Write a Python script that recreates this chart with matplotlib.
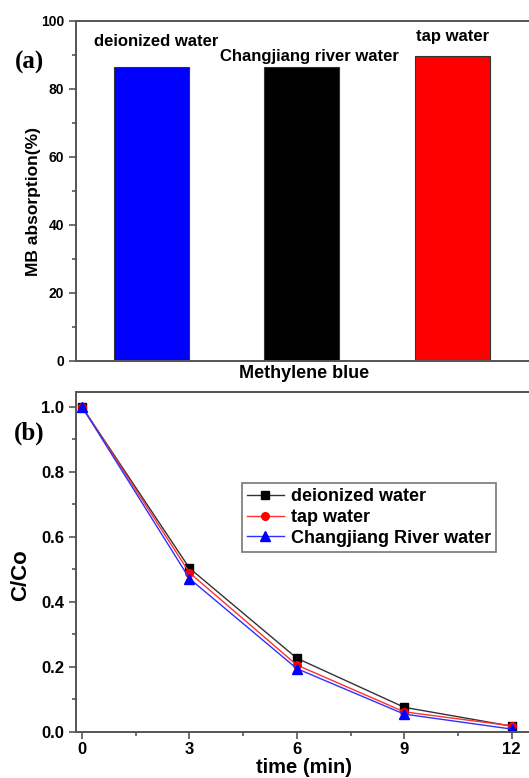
import matplotlib
matplotlib.use("Agg")
import matplotlib.pyplot as plt
from matplotlib.ticker import MultipleLocator, FormatStrFormatter

plt.rcParams['font.family'] = ['Liberation Sans', 'DejaVu Sans']
plt.rcParams['font.weight'] = 'bold'

# Panel (a): MB absorption in different waters
bar_labels = ["deionized water", "Changjiang river water", "tap water"]
absorption = [86.5, 86.5, 89.6]
bar_colors = ["#0000ff", "#000000", "#ff0000"]

# Panel (b): C/Co versus time
time_min = [0, 3, 6, 9, 12]
deionized = [1.0, 0.504, 0.227, 0.076, 0.018]
tap = [1.0, 0.490, 0.206, 0.062, 0.019]
changjiang = [1.0, 0.472, 0.195, 0.055, 0.009]

W, H = 529, 778
fig = plt.figure(figsize=(W / 100, H / 100), dpi=100)

spine_col = "#555555"

def px_axes(l, t, r, b):
    return fig.add_axes([l / W, 1 - b / H, (r - l) / W, (b - t) / H])

def style(ax):
    for s in ax.spines.values():
        s.set_color(spine_col)
        s.set_linewidth(1.4)
    ax.tick_params(which='both', direction='out', color=spine_col, width=1.2)
    ax.tick_params(which='major', length=5)
    ax.tick_params(which='minor', length=3)

# ---- (a) bar chart ----
ax1 = px_axes(76, 21, 532, 361)
style(ax1)
xpos = [1, 2, 3]
ax1.bar(xpos, absorption, width=0.5, color=bar_colors, edgecolor="#333333", linewidth=0.8)
ax1.set_xlim(0.5, 3.53)
ax1.set_ylim(0, 100)
ax1.yaxis.set_major_locator(MultipleLocator(20))
ax1.yaxis.set_minor_locator(MultipleLocator(10))
ax1.set_xticks([])
for lab in ax1.get_yticklabels():
    lab.set_fontsize(10)
    lab.set_fontweight('bold')
ax1.set_ylabel("MB absorption(%)", fontsize=12.5, fontweight='bold', va='center')
ax1.yaxis.set_label_coords(-0.094, 0.47)
ax1.set_xlabel("Methylene blue", fontsize=13, fontweight='bold', labelpad=3)

ax1.text(1.03, 94.0, bar_labels[0], ha='center', va='center', fontsize=12, fontweight='bold')
ax1.text(2.05, 89.7, bar_labels[1], ha='center', va='center', fontsize=12, fontweight='bold')
ax1.text(3.0, 95.3, bar_labels[2], ha='center', va='center', fontsize=12, fontweight='bold')

fig.text(29 / W, 1 - 62 / H, "(a)", family='Liberation Serif', fontsize=18,
         fontweight='bold', ha='center', va='center')

# ---- (b) kinetics ----
ax2 = px_axes(76, 392, 532, 732)
style(ax2)
ax2.plot(time_min, deionized, color="#333333", lw=1.0, marker='s', ms=5.5,
         mfc='black', mec='black', label="deionized water")
ax2.plot(time_min, tap, color="#ff3030", lw=1.0, marker='o', ms=5.5,
         mfc='red', mec='red', label="tap water")
ax2.plot(time_min, changjiang, color="#3030ff", lw=1.0, marker='^', ms=6.5,
         mfc='blue', mec='blue', label="Changjiang River water")
ax2.set_xlim(-0.17, 12.57)
ax2.set_ylim(0, 1.046)
ax2.xaxis.set_major_locator(MultipleLocator(3))
ax2.xaxis.set_minor_locator(MultipleLocator(1.5))
ax2.yaxis.set_major_locator(MultipleLocator(0.2))
ax2.yaxis.set_minor_locator(MultipleLocator(0.1))
ax2.yaxis.set_major_formatter(FormatStrFormatter('%.1f'))
for lab in ax2.get_xticklabels() + ax2.get_yticklabels():
    lab.set_fontsize(12)
    lab.set_fontweight('bold')
ax2.tick_params(axis='x', pad=2)
ax2.set_xlabel("time (min)", fontsize=14.5, fontweight='bold', labelpad=1)
ax2.set_ylabel("C/Co", fontsize=16, fontweight='bold', va='center')
ax2.yaxis.set_label_coords(-0.122, 0.46)

leg = ax2.legend(loc='upper left', bbox_to_anchor=((242 - 76) / 456, (732 - 483) / 340),
                 prop={'weight': 'bold', 'size': 13}, frameon=True, fancybox=False,
                 handlelength=2.0, handletextpad=0.4, labelspacing=0.2, borderpad=0.3,
                 borderaxespad=0)
leg.get_frame().set_edgecolor(spine_col)
leg.get_frame().set_linewidth(1.2)

fig.text(29 / W, 1 - 433 / H, "(b)", family='Liberation Serif', fontsize=18,
         fontweight='bold', ha='center', va='center')

fig.savefig("out.png", dpi=100)
